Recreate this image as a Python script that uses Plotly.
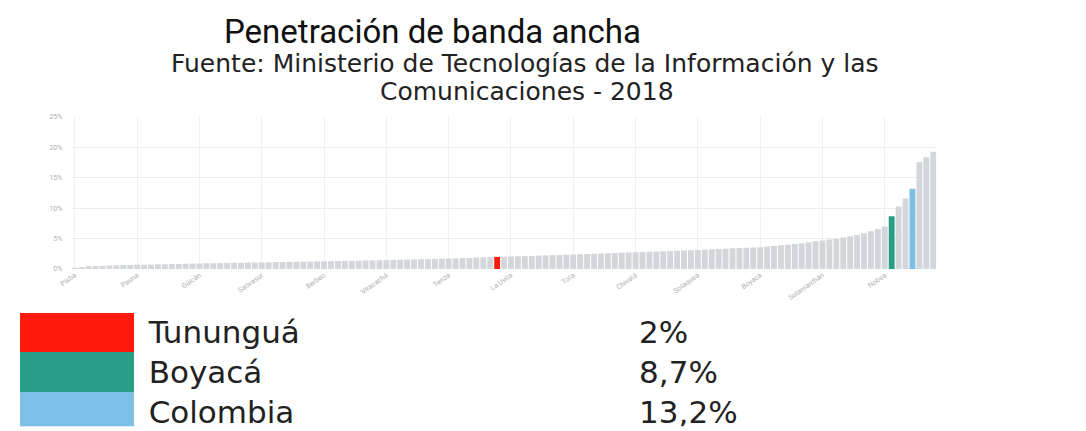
import plotly.graph_objects as go

# Municipios de Boyacá (más totales), ordenados de menor a mayor penetración
municipios = [
    "Pisba", "Cubará", "Labranzagrande", "Chiscas", "Paya", "Quípama", "Pajarito", "Chita",
    "San Eduardo", "Pauna", "Coper", "Briceño", "San Pablo de Borbur", "Otanche", "Maripí",
    "Buenavista", "Muzo", "Socotá", "Güicán", "El Espino", "Panqueba", "Guacamayas", "San Mateo",
    "Covarachía", "Tipacoque", "Susacón", "Sativanorte", "Sativasur", "Tutazá", "Betéitiva",
    "Chivor", "Santa María", "San Luis de Gaceno", "Campohermoso", "Macanal", "Páez", "Berbeo",
    "Zetaquira", "San José de Pare", "Chitaraque", "Togüí", "Santana", "Almeida", "Somondoco",
    "Rondón", "Viracachá", "Chinavita", "Pachavita", "Úmbita", "La Victoria", "Caldas",
    "San Miguel de Sema", "Chíquiza", "La Capilla", "Tenza", "Sutatenza", "Guayatá", "Ciénega",
    "Mongua", "Gámeza", "Tasco", "Tununguá", "Boavita", "La Uvita", "El Cocuy", "Cerinza",
    "Busbanzá", "Floresta", "Belén", "Tópaga", "Cuítiva", "Pesca", "Tota", "Tibaná", "Jenesano",
    "Turmequé", "Siachoque", "Soracá", "Oicatá", "Cucaita", "Sora", "Chivatá", "Motavita",
    "Cómbita", "Arcabuco", "Gachantivá", "Tinjacá", "Saboyá", "Ráquira", "Santa Sofía",
    "Sotaquirá", "Toca", "Iza", "Firavitoba", "Monguí", "Corrales", "Paz de Río", "Jericó",
    "Soatá", "Boyacá", "Nuevo Colón", "Ventaquemada", "Ramiriquí", "Aquitania", "Miraflores",
    "Guateque", "Socha", "Tuta", "Sutamarchán", "Sáchica", "Samacá", "Santa Rosa de Viterbo",
    "Moniquirá", "Garagoa", "Tibasosa", "Puerto Boyacá", "Villa de Leyva", "Nobsa",
    "Total Boyacá", "Chiquinquirá", "Paipa", "Total Colombia", "Sogamoso", "Duitama", "Tunja",
]

penetracion = [
    0.2, 0.35, 0.45, 0.5, 0.55, 0.6, 0.62, 0.65, 0.68, 0.7,
    0.72, 0.75, 0.78, 0.8, 0.82, 0.85, 0.87, 0.9, 0.92, 0.94,
    0.96, 0.98, 1.0, 1.02, 1.04, 1.06, 1.08, 1.1, 1.12, 1.14,
    1.16, 1.18, 1.2, 1.22, 1.24, 1.26, 1.28, 1.3, 1.32, 1.34,
    1.36, 1.38, 1.4, 1.42, 1.45, 1.48, 1.5, 1.52, 1.55, 1.58,
    1.6, 1.63, 1.66, 1.7, 1.73, 1.76, 1.8, 1.84, 1.88, 1.92,
    1.96, 2.0, 2.03, 2.06, 2.1, 2.13, 2.16, 2.2, 2.24, 2.28,
    2.32, 2.36, 2.4, 2.44, 2.48, 2.52, 2.56, 2.6, 2.64, 2.68,
    2.72, 2.76, 2.8, 2.84, 2.88, 2.92, 2.96, 3.0, 3.05, 3.1,
    3.15, 3.2, 3.25, 3.3, 3.35, 3.4, 3.45, 3.5, 3.55, 3.6,
    3.7, 3.8, 3.9, 4.0, 4.1, 4.25, 4.4, 4.55, 4.7, 4.85,
    5.0, 5.2, 5.4, 5.6, 5.9, 6.2, 6.6, 7.0,
    8.7, 10.3, 11.6, 13.2, 17.6, 18.4, 19.3,
]

destacados = {"Tununguá": "#ff1a0d", "Total Boyacá": "#2a9d87", "Total Colombia": "#7dbfe6"}
leyenda_nombres = ["Tununguá", "Boyacá", "Colombia"]
leyenda_valores = ["2%", "8,7%", "13,2%"]
leyenda_colores = ["#ff1a0d", "#2a9d87", "#7dbfe6"]

GRIS = "#d3d7db"
colores = [destacados.get(m, GRIS) for m in municipios]

# the page body keeps its 8px default margin, so work in screen px minus 8
W, H, OFF = 1078, 423, 8


def px(x):
    return (x - OFF) / W


def py(y):
    return 1 - (y - OFF) / H


fig = go.Figure()
fig.add_trace(go.Bar(
    x=municipios, y=penetracion, marker_color=colores, marker_line_width=0,
    hovertemplate="%{x}: %{y}%<extra></extra>",
))

# legend block below the chart: colour swatch, name, value
fig.add_trace(go.Table(
    domain=dict(x=[0, 1], y=[0, py(313)]),
    columnwidth=[115, 7, 496, 460],
    header=dict(values=["", "", "", ""], height=1, fill_color="white", line_color="white"),
    cells=dict(
        values=[["", "", ""], ["", "", ""], leyenda_nombres, leyenda_valores],
        fill_color=[leyenda_colores, ["white"] * 3, ["white"] * 3, ["white"] * 3],
        line_color="white", line_width=0,
        height=40, align="left",
        font=dict(family="DejaVu Sans", size=31, color="#222"),
    ),
))

fig.update_layout(
    width=W, height=H,
    margin=dict(l=0, r=0, t=0, b=0),
    plot_bgcolor="white", paper_bgcolor="white",
    showlegend=False, bargap=0.15,
    font=dict(family="Roboto"),
    xaxis=dict(
        domain=[px(60), px(935)],
        tickvals=municipios[::9], tickangle=-35,
        tickfont=dict(size=7, color="#b0b0b0"),
        showgrid=True, gridcolor="#f0f0f0", showline=False, ticks="",
    ),
    yaxis=dict(
        domain=[py(270), py(115)],
        range=[0, 25], dtick=5, ticksuffix="%",
        tickfont=dict(size=7, color="#b0b0b0"),
        ticklabelstandoff=8,
        showgrid=True, gridcolor="#ececec", zeroline=False,
    ),
    annotations=[
        dict(text="Penetración de banda ancha", x=px(425), y=py(28),
             xref="paper", yref="paper", yanchor="middle", showarrow=False,
             font=dict(family="Roboto", size=33, color="#111")),
        dict(text="Fuente: Ministerio de Tecnologías de la Información y las", x=px(519), y=py(61),
             xref="paper", yref="paper", yanchor="middle", showarrow=False,
             font=dict(family="DejaVu Sans", size=25, color="#222")),
        dict(text="Comunicaciones - 2018", x=px(521), y=py(89.5),
             xref="paper", yref="paper", yanchor="middle", showarrow=False,
             font=dict(family="DejaVu Sans", size=25, color="#222")),
    ],
)

fig.write_html("out.html")
